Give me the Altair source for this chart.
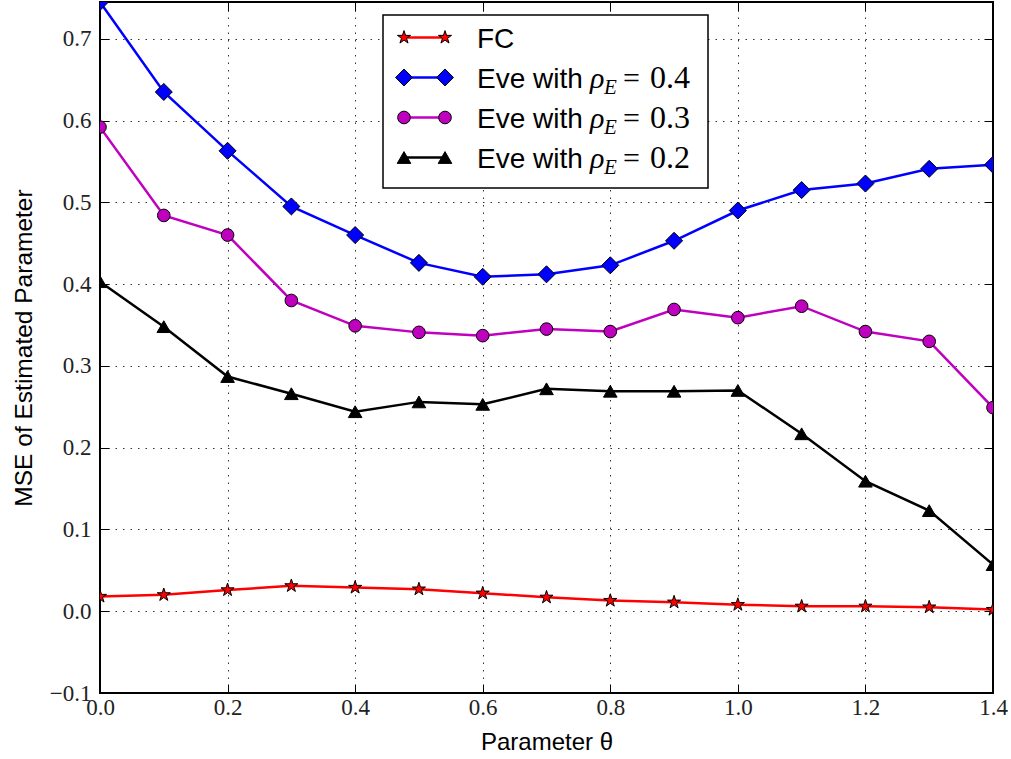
import altair as alt
import pandas as pd

# ---------------- data ----------------
theta = [0.0, 0.1, 0.2, 0.3, 0.4, 0.5, 0.6, 0.7, 0.8, 0.9, 1.0, 1.1, 1.2, 1.3, 1.4]
fc = [0.018, 0.020, 0.026, 0.031, 0.029, 0.027, 0.022, 0.017, 0.013, 0.011, 0.008, 0.006, 0.006, 0.005, 0.002]
eve04 = [0.745, 0.635, 0.563, 0.495, 0.460, 0.426, 0.409, 0.412, 0.423, 0.453, 0.490, 0.515, 0.523, 0.541, 0.546]
eve03 = [0.592, 0.484, 0.460, 0.380, 0.349, 0.341, 0.337, 0.345, 0.342, 0.369, 0.359, 0.373, 0.342, 0.330, 0.249]
eve02 = [0.403, 0.348, 0.287, 0.266, 0.244, 0.256, 0.253, 0.272, 0.269, 0.269, 0.270, 0.217, 0.159, 0.123, 0.057]

series = ["FC", "Eve04", "Eve03", "Eve02"]
legend_text = ["FC", "Eve with", "Eve with", "Eve with"]
rho_values = [None, "0.4", "0.3", "0.2"]
xticks = [0.0, 0.2, 0.4, 0.6, 0.8, 1.0, 1.2, 1.4]
yticks = [-0.1, 0.0, 0.1, 0.2, 0.3, 0.4, 0.5, 0.6, 0.7]

# ---------------- styles ----------------
colors = ["#ff0000", "#0000ff", "#bf00bf", "#000000"]
STAR = ("M0,-1L0.2245,-0.309L0.9511,-0.309L0.3633,0.118L0.5878,0.809L0,0.382"
        "L-0.5878,0.809L-0.3633,0.118L-0.9511,-0.309L-0.2245,-0.309Z")
DIAMOND = "M0,-1L1,0L0,1L-1,0Z"
shapes = [STAR, DIAMOND, "circle", "triangle-up"]
sizes = [190, 290, 160, 185]
SERIF = "Liberation Serif, Times New Roman, serif"
SANS = "Liberation Sans, Arial, sans-serif"

W, H = 893, 691
PAD = {"left": 100, "top": 2, "right": 18, "bottom": 66}
TICK = 9

rows = []
for s, vals in zip(series, [fc, eve04, eve03, eve02]):
    for t, v in zip(theta, vals):
        rows.append({"theta": t, "mse": v, "series": s})
df = pd.DataFrame(rows)

xscale = alt.Scale(domain=[0.0, 1.4], nice=False, zero=False)
yscale = alt.Scale(domain=[-0.1, 0.745], nice=False, zero=False)

grid = dict(grid=True, gridColor="#000000", gridOpacity=0.8, gridDash=[1.5, 6], gridWidth=1)
tickstyle = dict(ticks=True, tickSize=TICK, tickColor="black", tickWidth=1, offset=-TICK, domain=False)

xaxis = alt.Axis(values=xticks, format=".1f", labelFont=SERIF, labelFontSize=23,
                 labelColor="#222222", labelPadding=3, labelFlush=False, labelOverlap=False,
                 title="Parameter θ", titleFont=SANS, titleFontSize=24,
                 titleFontWeight="normal", titleColor="black", titleBaseline="alphabetic",
                 titleY=65, **tickstyle, **grid)
yaxis = alt.Axis(values=yticks, format=".1f", labelFont=SERIF, labelFontSize=23,
                 labelColor="#222222", labelPadding=9, labelFlush=False, labelOverlap=False,
                 title="MSE of Estimated Parameter", titleFont=SANS, titleFontSize=24.5,
                 titleFontWeight="normal", titleColor="black", titleBaseline="alphabetic",
                 titleX=-78, **tickstyle, **grid)

base = alt.Chart(df).encode(
    x=alt.X("theta:Q", scale=xscale, axis=xaxis),
    y=alt.Y("mse:Q", scale=yscale, axis=yaxis),
)
data_layers = []
for i, s in enumerate(series):
    sub = base.transform_filter(alt.datum.series == s)
    data_layers.append(sub.mark_line(strokeWidth=2.5, clip=True, color=colors[i]).encode(
        order=alt.Order("theta:Q")))
    data_layers.append(sub.mark_point(
        filled=True, fill=colors[i], stroke="black", strokeWidth=1, opacity=1, clip=True,
        shape=shapes[i], size=sizes[i]))
data_layer = alt.layer(*data_layers)

# mirrored inward ticks on top and right
tick_layer = alt.Chart(df).mark_point(opacity=0).encode(
    x=alt.X("theta:Q", scale=xscale,
            axis=alt.Axis(orient="top", values=xticks, labels=False, title=None, grid=False, **tickstyle)),
    y=alt.Y("mse:Q", scale=yscale,
            axis=alt.Axis(orient="right", values=yticks, labels=False, title=None, grid=False, **tickstyle)),
)

# ---------------- legend (drawn box) ----------------
one = pd.DataFrame({"k": [0]})
LX0, LX1, LY0, LY1 = 283, 608, 13, 186
ROW0, ROWH = 35.5, 40
SYM_A, SYM_B, TXT = 304, 345, 377
RHO_X, SUB_X, EQ_X, NUM_X = 490, 504, 523, 550

legend_layers = [
    alt.Chart(one).mark_rect(fill="white", stroke="black", strokeWidth=1.5).encode(
        x=alt.value(LX0), x2=alt.value(LX1), y=alt.value(LY0), y2=alt.value(LY1))
]
for i, s in enumerate(series):
    yc = ROW0 + i * ROWH
    legend_layers.append(alt.Chart(one).mark_rule(color=colors[i], strokeWidth=2.5).encode(
        x=alt.value(SYM_A), x2=alt.value(SYM_B), y=alt.value(yc)))
    for xs in (SYM_A, SYM_B):
        legend_layers.append(alt.Chart(one).mark_point(
            filled=True, fill=colors[i], stroke="black", strokeWidth=1, opacity=1,
            shape=shapes[i], size=sizes[i]).encode(x=alt.value(xs), y=alt.value(yc)))
    legend_layers.append(alt.Chart(one).mark_text(
        text=legend_text[i], align="left", baseline="alphabetic", font=SANS,
        fontSize=28, color="black").encode(x=alt.value(TXT), y=alt.value(yc + 10)))
    if rho_values[i] is not None:
        legend_layers.append(alt.Chart(one).mark_text(
            text="ρ", align="left", baseline="alphabetic", font=SERIF,
            fontSize=30, fontStyle="italic", color="black").encode(
            x=alt.value(RHO_X), y=alt.value(yc + 10)))
        legend_layers.append(alt.Chart(one).mark_text(
            text="E", align="left", baseline="alphabetic", font=SERIF,
            fontSize=21, fontStyle="italic", color="black").encode(
            x=alt.value(SUB_X), y=alt.value(yc + 16)))
        legend_layers.append(alt.Chart(one).mark_text(
            text="=", align="left", baseline="alphabetic", font=SERIF,
            fontSize=30, color="black").encode(x=alt.value(EQ_X), y=alt.value(yc + 10)))
        legend_layers.append(alt.Chart(one).mark_text(
            text=rho_values[i], align="left", baseline="alphabetic", font=SERIF,
            fontSize=32, color="black").encode(x=alt.value(NUM_X), y=alt.value(yc + 10)))

chart = alt.layer(data_layer, tick_layer, *legend_layers).resolve_scale(
    x="independent", y="independent"
).properties(
    width=W, height=H, padding=PAD, autosize=alt.AutoSizeParams(type="none"),
    background="white",
).configure_view(stroke="black", strokeWidth=2)

chart.save("out.html", embed_options={"renderer": "svg", "actions": False})
